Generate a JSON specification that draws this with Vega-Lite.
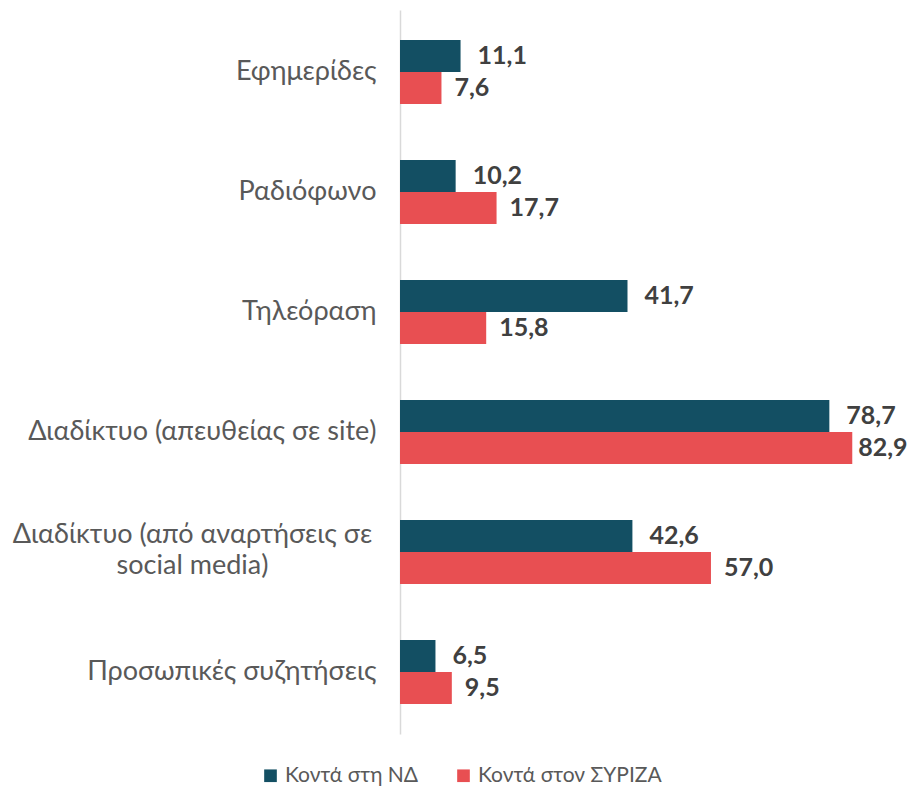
{
  "$schema": "https://vega.github.io/schema/vega-lite/v6.json",
  "autosize": "none",
  "width": 491,
  "height": 724,
  "padding": {"left": 400, "top": 10, "right": 22, "bottom": 53},
  "background": "white",
  "config": {
    "view": {"stroke": null},
    "font": "Lato",
    "locale": {"number": {"decimal": ",", "thousands": ".", "grouping": [3], "currency": ["", " €"]}}
  },
  "data": {
    "values": [
      {"category": "Εφημερίδες", "series": "Κοντά στη ΝΔ", "value": 11.1},
      {"category": "Εφημερίδες", "series": "Κοντά στον ΣΥΡΙΖΑ", "value": 7.6},
      {"category": "Ραδιόφωνο", "series": "Κοντά στη ΝΔ", "value": 10.2},
      {"category": "Ραδιόφωνο", "series": "Κοντά στον ΣΥΡΙΖΑ", "value": 17.7},
      {"category": "Τηλεόραση", "series": "Κοντά στη ΝΔ", "value": 41.7},
      {"category": "Τηλεόραση", "series": "Κοντά στον ΣΥΡΙΖΑ", "value": 15.8},
      {"category": "Διαδίκτυο (απευθείας σε site)", "series": "Κοντά στη ΝΔ", "value": 78.7},
      {"category": "Διαδίκτυο (απευθείας σε site)", "series": "Κοντά στον ΣΥΡΙΖΑ", "value": 82.9},
      {"category": "Διαδίκτυο (από αναρτήσεις σε social media)", "series": "Κοντά στη ΝΔ", "value": 42.6},
      {"category": "Διαδίκτυο (από αναρτήσεις σε social media)", "series": "Κοντά στον ΣΥΡΙΖΑ", "value": 57.0},
      {"category": "Προσωπικές συζητήσεις", "series": "Κοντά στη ΝΔ", "value": 6.5},
      {"category": "Προσωπικές συζητήσεις", "series": "Κοντά στον ΣΥΡΙΖΑ", "value": 9.5}
    ]
  },
  "encoding": {
    "y": {
      "field": "category",
      "type": "nominal",
      "sort": null,
      "scale": {"paddingInner": 0.467, "paddingOuter": 0.25},
      "axis": {
        "title": null,
        "ticks": false,
        "grid": false,
        "domain": true,
        "domainColor": "#d9d9d9",
        "domainWidth": 1.5,
        "labelFont": "Lato",
        "labelFontSize": 27,
        "labelColor": "#595959",
        "labelPadding": {"condition": {"test": "datum.value == 'Διαδίκτυο (από αναρτήσεις σε social media)'", "value": 208}, "value": 24},
        "labelAlign": {"condition": {"test": "datum.value == 'Διαδίκτυο (από αναρτήσεις σε social media)'", "value": "center"}, "value": "right"},
        "labelLimit": 400,
        "labelLineHeight": 31,
        "labelOffset": {"condition": {"test": "datum.value == 'Διαδίκτυο (από αναρτήσεις σε social media)'", "value": -17}, "value": 0},
        "labelExpr": "datum.value == 'Διαδίκτυο (από αναρτήσεις σε social media)' ? ['Διαδίκτυο (από αναρτήσεις σε', 'social media)'] : datum.value"
      }
    },
    "yOffset": {"field": "series", "type": "nominal", "sort": ["Κοντά στη ΝΔ", "Κοντά στον ΣΥΡΙΖΑ"]},
    "x": {
      "field": "value",
      "type": "quantitative",
      "scale": {"domain": [0, 90], "nice": false},
      "axis": null
    }
  },
  "layer": [
    {
      "mark": {"type": "bar"},
      "encoding": {
        "color": {
          "field": "series",
          "type": "nominal",
          "sort": ["Κοντά στη ΝΔ", "Κοντά στον ΣΥΡΙΖΑ"],
          "scale": {"domain": ["Κοντά στη ΝΔ", "Κοντά στον ΣΥΡΙΖΑ"], "range": ["#134f63", "#e84f52"]},
          "legend": {
            "title": null,
            "orient": "none",
            "direction": "horizontal",
            "legendX": -140,
            "legendY": 755,
            "symbolType": "square",
            "symbolSize": 160,
            "symbolStrokeWidth": 0,
            "labelFont": "Lato",
            "labelFontSize": 21,
            "labelColor": "#595959",
            "labelLimit": 400,
            "columnPadding": 34,
            "labelOffset": 4
          }
        }
      }
    },
    {
      "transform": [{"filter": "datum.series == 'Κοντά στη ΝΔ'"}],
      "mark": {"type": "text", "align": "left", "baseline": "middle", "dx": 17, "font": "Lato", "fontSize": 25, "fontWeight": "bold", "color": "#404040"},
      "encoding": {
        "text": {"field": "value", "type": "quantitative", "format": ".1f"}
      }
    },
    {
      "transform": [{"filter": "datum.series == 'Κοντά στον ΣΥΡΙΖΑ' && datum.value < 80"}],
      "mark": {"type": "text", "align": "left", "baseline": "middle", "dx": 13, "font": "Lato", "fontSize": 25, "fontWeight": "bold", "color": "#404040"},
      "encoding": {
        "text": {"field": "value", "type": "quantitative", "format": ".1f"}
      }
    },
    {
      "transform": [{"filter": "datum.series == 'Κοντά στον ΣΥΡΙΖΑ' && datum.value >= 80"}],
      "mark": {"type": "text", "align": "left", "baseline": "middle", "dx": 6, "font": "Lato", "fontSize": 25, "fontWeight": "bold", "color": "#404040"},
      "encoding": {
        "text": {"field": "value", "type": "quantitative", "format": ".1f"}
      }
    }
  ]
}
